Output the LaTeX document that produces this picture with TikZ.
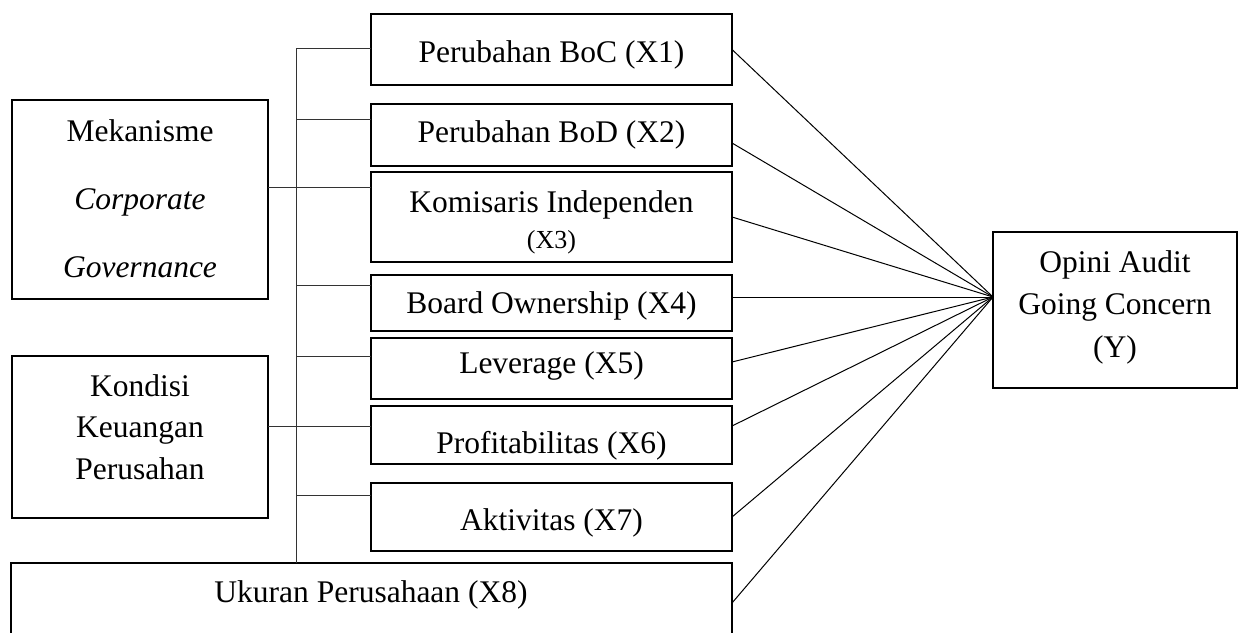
\documentclass[tikz,border=0pt]{standalone}
\usepackage{fontspec}
\setmainfont{Liberation Serif}
\begin{document}
\begin{tikzpicture}[x=1pt,y=-1pt,
  box/.style={draw=black, line width=2.4pt, fill=white, anchor=north west, inner sep=0pt, outer sep=0pt},
  txt/.style={anchor=base, inner sep=0pt, font=\fontsize{31.5}{38}\selectfont},
  smalltxt/.style={anchor=base, inner sep=0pt, font=\fontsize{26}{31}\selectfont},
  conn/.style={draw=black, line width=1pt},
  branch/.style={draw=black!80, line width=1pt}]
\useasboundingbox[fill=white] (0,0) rectangle (1238,632);

% boxes
\node[box, minimum width=256pt, minimum height=199pt] (M) at (12,100) {};
\node[box, minimum width=256pt, minimum height=162pt] (K) at (12,356) {};
\node[box, minimum width=361pt, minimum height=71pt] (X1) at (371,14) {};
\node[box, minimum width=361pt, minimum height=62pt] (X2) at (371,104) {};
\node[box, minimum width=361pt, minimum height=90pt] (X3) at (371,172) {};
\node[box, minimum width=361pt, minimum height=56pt] (X4) at (371,275) {};
\node[box, minimum width=361pt, minimum height=61pt] (X5) at (371,338) {};
\node[box, minimum width=361pt, minimum height=58pt] (X6) at (371,406) {};
\node[box, minimum width=361pt, minimum height=68pt] (X7) at (371,483) {};
\node[box, minimum width=721pt, minimum height=80pt] (X8) at (11,563) {};
\node[box, minimum width=244pt, minimum height=156pt] (Y) at (993,232) {};

% texts
\node[txt] (tM1) at (140,141) {Mekanisme};
\node[txt] (tM2) at (140,209) {\itshape Corporate};
\node[txt] (tM3) at (140,277) {\itshape Governance};
\node[txt] (tK1) at (140,396) {Kondisi};
\node[txt] (tK2) at (140,437) {Keuangan};
\node[txt] (tK3) at (140,479) {Perusahan};
\node[txt] (t1) at (551.5,62) {Perubahan BoC (X1)};
\node[txt] (t2) at (551.5,142) {Perubahan BoD (X2)};
\node[txt] (t3a) at (551.5,212) {Komisaris Independen};
\node[smalltxt] (t3b) at (551.5,248) {(X3)};
\node[txt] (t4) at (551.5,313) {Board Ownership (X4)};
\node[txt] (t5) at (551.5,373) {Leverage (X5)};
\node[txt] (t6) at (551.5,453) {Profitabilitas (X6)};
\node[txt] (t7) at (551.5,530) {Aktivitas (X7)};
\node[txt] (t8) at (371,602) {Ukuran Perusahaan (X8)};
\node[txt] (tY1) at (1115,272) {Opini Audit};
\node[txt] (tY2) at (1115,314) {Going Concern};
\node[txt] (tY3) at (1115,357) {(Y)};

% bus on the left
\coordinate (b1) at ([yshift=1.5pt]X1.west);
\coordinate (b2) at ([yshift=16pt]X2.west);
\coordinate (b4) at ([yshift=18pt]X4.west);
\coordinate (b5) at ([yshift=12.5pt]X5.west);
\coordinate (b7) at ([yshift=22pt]X7.west);
\coordinate (bustop) at ([xshift=-75pt]b1);
\coordinate (mk) at ([yshift=12.5pt]M.east);
\coordinate (kd) at ([yshift=11pt]K.east);

\draw[branch] (bustop) -- (bustop |- X8.north);
\draw[branch] (b1) -- (b1 -| bustop);
\draw[branch] (b2) -- (b2 -| bustop);
\draw[branch] (b4) -- (b4 -| bustop);
\draw[branch] (b5) -- (b5 -| bustop);
\draw[branch] (b7) -- (b7 -| bustop);
\draw[branch] (mk) -- (mk -| X3.west);
\draw[branch] (kd) -- (kd -| X6.west);

% connectors to Y
\coordinate (yin) at ([yshift=13pt]Y.west);
\draw[conn] (X1.east) -- (yin);
\draw[conn] ([yshift=-8pt]X2.east) -- (yin);
\draw[conn] (X3.east) -- (yin);
\draw[conn] ([yshift=6pt]X4.east) -- (yin);
\draw[conn] ([yshift=6.5pt]X5.east) -- (yin);
\draw[conn] ([yshift=9pt]X6.east) -- (yin);
\draw[conn] (X7.east) -- (yin);
\draw[conn] (X8.east) -- (yin);
\end{tikzpicture}
\end{document}
